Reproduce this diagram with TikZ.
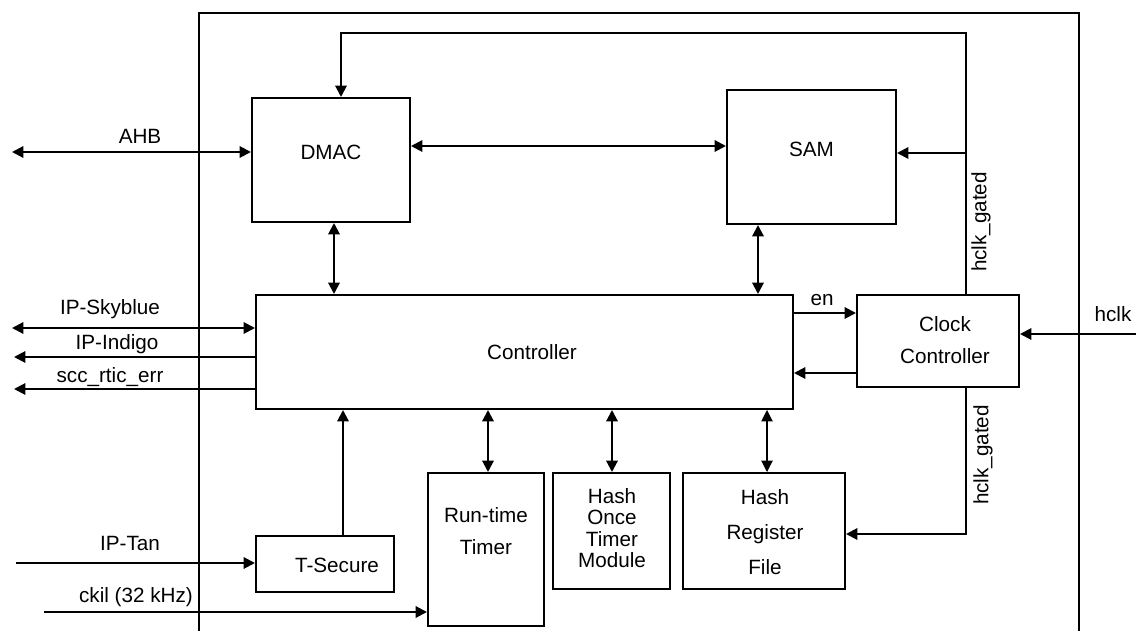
\documentclass[tikz,border=0pt]{standalone}
\usepackage{fontspec}
\setmainfont{Liberation Sans}
\usetikzlibrary{arrows.meta,fit}
\begin{document}
\begin{tikzpicture}[x=0.75pt,y=-0.75pt,
  box/.style={draw,line width=1.5pt,inner sep=0pt,rectangle,font=\fontsize{15.5}{18}\selectfont,align=center},
  txt/.style={font=\fontsize{15.5}{18}\selectfont,inner sep=0pt,align=center},
  arr/.style={line width=1.5pt,-{Triangle[length=8.5pt,width=8.5pt]}},
  dbl/.style={line width=1.5pt,{Triangle[length=8.5pt,width=8.5pt]}-{Triangle[length=8.5pt,width=8.5pt]}},
  thin dbl/.style={line width=0.8pt,{Triangle[length=8.5pt,width=8.5pt]}-{Triangle[length=8.5pt,width=8.5pt]}},
  frame/.style={line width=1.2pt}]
\useasboundingbox (0,0) rectangle (1136,631);
% outer frame
\coordinate (fbl0) at (199,631);
\coordinate (ftl) at (199,13);
\coordinate (ftr) at (1079,13);
\coordinate (fbr0) at (1079,631);
\draw[frame] (fbl0) -- (ftl) -- (ftr) -- (fbr0);
% boxes
\node[box,fit={(252,98)(410,222)}] (dmac) {DMAC};
\node[box,fit={(727,90)(896,224)}] (sam) {SAM};
\node[box,fit={(256,295)(793,409)}] (ctrl) {};
\node[txt] at (532,352) (ctrltxt) {Controller};
\node[box,fit={(857,295)(1019,387)}] (clk) {};
\node[txt,font=\fontsize{15.5}{24.5}\selectfont] at (945,340) (clktxt) {Clock\\Controller};
\node[box,fit={(428,473)(544,626)}] (rtt) {};
\node[txt,font=\fontsize{15.5}{24}\selectfont] at (486,531) (rtttxt) {Run-time\\Timer};
\node[box,fit={(553,473)(670,589)}] (hot) {};
\node[txt,font=\fontsize{15.5}{16}\selectfont] at (612,528) (hottxt) {Hash\\Once\\Timer\\Module};
\node[box,fit={(683,473)(845,589)}] (hrf) {};
\node[txt,font=\fontsize{15.5}{26}\selectfont] at (765,532) (hrftxt) {Hash\\Register\\File};
\node[box,fit={(256,536)(394,592)}] (tsec) {};
\node[txt] at (337,565) (tsectxt) {T-Secure};
% helper coordinates
\coordinate (ahbL) at (12,152);
\coordinate (dsy) at (0,146);
\coordinate (fbtop) at (966,33);
\coordinate (fbl) at (341,33);
\coordinate (fbs) at (966,153);
\coordinate (dcx) at (334,0);
\coordinate (scx) at (758,0);
\coordinate (skyL) at (12,328);
\coordinate (indL) at (14,357);
\coordinate (sccL) at (14,389);
\coordinate (eny) at (0,313);
\coordinate (rety) at (0,373);
\coordinate (hclkR) at (1136,334);
\coordinate (gcorner) at (966,534);
\coordinate (rtx) at (488,0);
\coordinate (hox) at (612,0);
\coordinate (hrx) at (767,0);
\coordinate (tsx) at (343,0);
\coordinate (tanL) at (16,563);
\coordinate (ckilL) at (44,612);
% connectors
\draw[dbl] (ahbL) -- (ahbL -| dmac.west);
\node[txt] at (140,136) (ahbtxt) {AHB};
\draw[dbl] (dsy -| dmac.east) -- (dsy -| sam.west);
\draw[arr] (fbtop |- clk.north) -- (fbtop) -- (fbl) -- (fbl |- dmac.north);
\draw[arr] (fbs) -- (fbs -| sam.east);
\node[txt,rotate=90] at (981,222) (hg1) {hclk\_gated};
\draw[dbl] (dcx |- dmac.south) -- (dcx |- ctrl.north);
\draw[dbl] (scx |- sam.south) -- (scx |- ctrl.north);
\draw[dbl] (skyL) -- (skyL -| ctrl.west);
\node[txt] at (110,309) (skytxt) {IP-Skyblue};
\draw[arr] (indL -| ctrl.west) -- (indL);
\node[txt] at (117,344) (indtxt) {IP-Indigo};
\draw[arr] (sccL -| ctrl.west) -- (sccL);
\node[txt] at (110,377) (scctxt) {scc\_rtic\_err};
\draw[arr] (eny -| ctrl.east) -- (eny -| clk.west);
\node[txt] at (822,300) (entxt) {en};
\draw[arr] (rety -| clk.west) -- (rety -| ctrl.east);
\draw[arr] (hclkR) -- (hclkR -| clk.east);
\node[txt] at (1113,314) (hclktxt) {hclk};
\draw[arr] (gcorner |- clk.south) -- (gcorner) -- (gcorner -| hrf.east);
\node[txt,rotate=90] at (983,455) (hg2) {hclk\_gated};
\draw[dbl] (rtx |- ctrl.south) -- (rtx |- rtt.north);
\draw[dbl] (hox |- ctrl.south) -- (hox |- hot.north);
\draw[thin dbl] (hrx |- ctrl.south) -- (hrx |- hrf.north);
\draw[arr] (tsx |- tsec.north) -- (tsx |- ctrl.south);
\draw[arr] (tanL) -- (tanL -| tsec.west);
\node[txt] at (130,543) (tantxt) {IP-Tan};
\draw[arr] (ckilL) -- (ckilL -| rtt.west);
\node[txt] at (136,597) (ckiltxt) {ckil (32 kHz)};
\end{tikzpicture}
\end{document}
